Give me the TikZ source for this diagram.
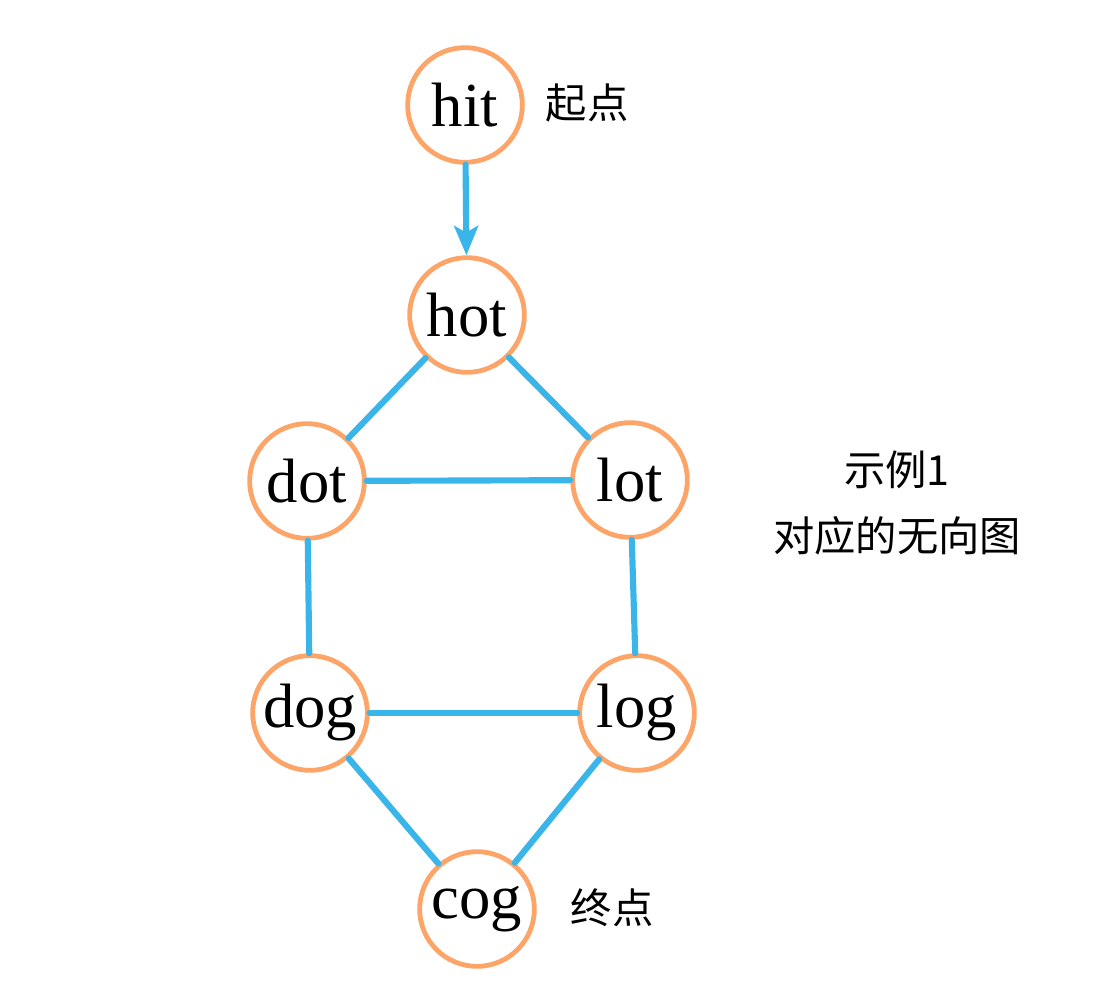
\documentclass[tikz,border=0pt]{standalone}
\usepackage{fontspec}
\setmainfont{Liberation Serif}
\newfontfamily\cjk{Noto Sans CJK SC}
\usetikzlibrary{arrows.meta}
\definecolor{ringorange}{RGB}{253,165,104}
\definecolor{edgeblue}{RGB}{58,181,233}

\begin{document}
\begin{tikzpicture}[x=0.75pt,y=-0.75pt,
  word/.style={circle,draw=ringorange,line width=3.6pt,minimum size=86pt,inner sep=0pt,
    font=\fontsize{47}{50}\selectfont},
  edge/.style={draw=edgeblue,line width=4.6pt,line cap=round},
  note/.style={font=\cjk\fontsize{31}{50}\selectfont,align=center}]
 \useasboundingbox (0,0) rectangle (1112,998);
 % the words
 \node[word] (hit) at (465,105) {hit};
 \node[word] (hot) at (467,315) {hot};
 \node[word] (dot) at (307,481) {dot};
 \node[word] (lot) at (630,480) {lot};
 \node[word] (dog) at (310,713) {dog};
 \node[word] (log) at (637,713) {log};
 \node[word] (cog) at (477,909) {cog};
 % labels
 \node[note] (start) at (587,103) {起点};
 \node[note] (goal) at (612,908) {终点};
 \node[note] (caption) at (897,503) {示例1\\对应的无向图};
 % edges
 \draw[edge,-{Stealth[length=22pt,width=18pt,inset=5pt]}] (hit) -- (hot);
 \draw[edge] (hot) -- (dot);
 \draw[edge] (hot) -- (lot);
 \draw[edge] (dot) -- (lot);
 \draw[edge] (dot) -- (dog);
 \draw[edge] (lot) -- (log);
 \draw[edge] (dog) -- (log);
 \draw[edge] (dog) -- (cog);
 \draw[edge] (log) -- (cog);
\end{tikzpicture}
\end{document}
